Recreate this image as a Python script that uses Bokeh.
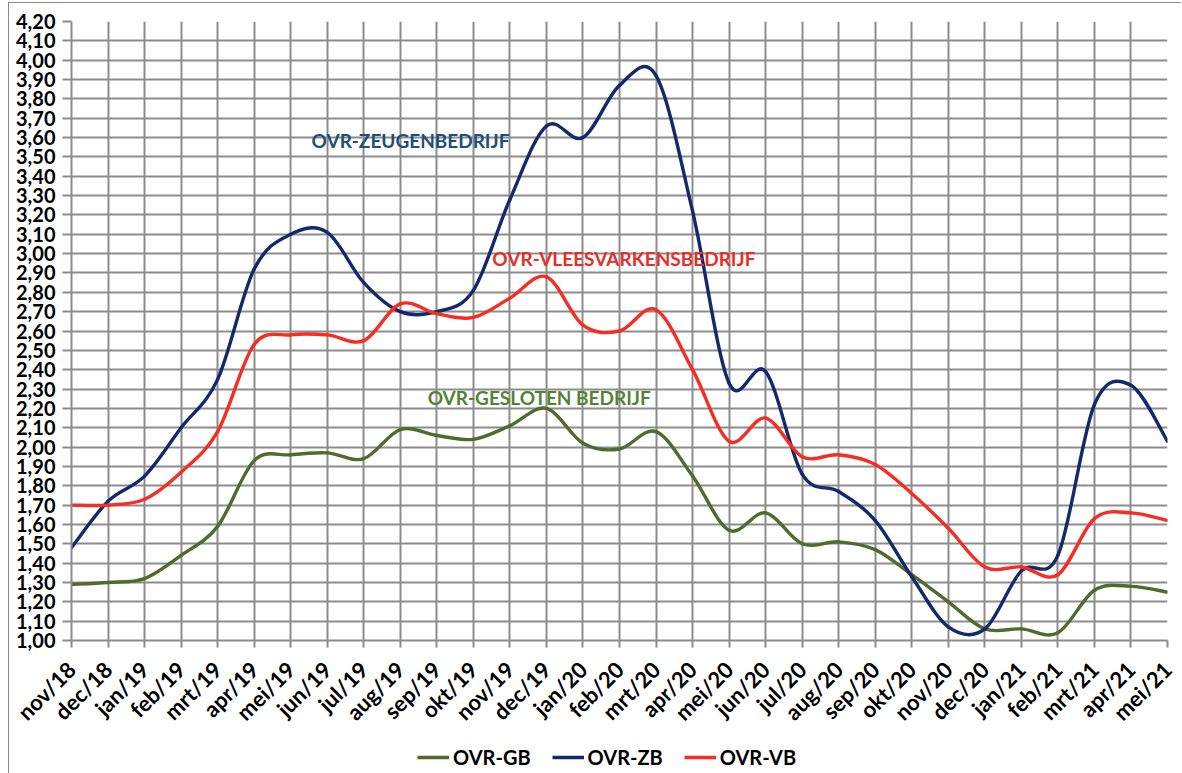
from bokeh.plotting import figure
from bokeh.layouts import column
from bokeh.models import (Range1d, FixedTicker, Legend, LegendItem, Label, ColumnDataSource)
from bokeh.embed import file_html
from bokeh.resources import INLINE
import math

months = ["nov/18", "dec/18", "jan/19", "feb/19", "mrt/19", "apr/19", "mei/19", "jun/19",
          "jul/19", "aug/19", "sep/19", "okt/19", "nov/19", "dec/19", "jan/20", "feb/20",
          "mrt/20", "apr/20", "mei/20", "jun/20", "jul/20", "aug/20", "sep/20", "okt/20",
          "nov/20", "dec/20", "jan/21", "feb/21", "mrt/21", "apr/21", "mei/21"]

ovr_gb = [1.29, 1.30, 1.32, 1.44, 1.59, 1.93, 1.96, 1.97, 1.94, 2.09, 2.06, 2.04, 2.11, 2.20,
          2.02, 1.99, 2.08, 1.85, 1.57, 1.66, 1.50, 1.51, 1.47, 1.34, 1.20, 1.06, 1.06, 1.04,
          1.26, 1.28, 1.25]
ovr_zb = [1.48, 1.72, 1.85, 2.10, 2.35, 2.92, 3.10, 3.11, 2.85, 2.70, 2.70, 2.81, 3.28, 3.66,
          3.60, 3.87, 3.92, 3.22, 2.33, 2.39, 1.86, 1.77, 1.62, 1.33, 1.07, 1.06, 1.36, 1.44,
          2.22, 2.32, 2.03]
ovr_vb = [1.70, 1.70, 1.73, 1.87, 2.08, 2.53, 2.58, 2.58, 2.55, 2.74, 2.69, 2.67, 2.77, 2.88,
          2.63, 2.60, 2.71, 2.40, 2.03, 2.15, 1.95, 1.96, 1.91, 1.76, 1.58, 1.38, 1.38, 1.34,
          1.63, 1.66, 1.62]

series_names = ["OVR-GB", "OVR-ZB", "OVR-VB"]
series_colors = ["#4F6B2E", "#13296B", "#F52D22"]

y_ticks = [round(1.0 + 0.1 * i, 2) for i in range(33)]
y_labels = [f"{v:.2f}".replace(".", ",") for v in y_ticks]

FONT = "Lato"
GRID = "#8C8C8C"

p = figure(width=1172, height=735, output_backend="svg", toolbar_location=None,
           x_range=Range1d(0, len(months) - 1), y_range=Range1d(1.0, 4.2),
           min_border_left=62, min_border_right=14, min_border_top=18, min_border_bottom=93)
p.outline_line_color = None
p.background_fill_color = "white"

# axes
p.xaxis.ticker = FixedTicker(ticks=list(range(len(months))))
p.xaxis.major_label_overrides = {i: m for i, m in enumerate(months)}
p.xaxis.major_label_orientation = math.pi / 4
p.yaxis.ticker = FixedTicker(ticks=y_ticks)
p.yaxis.major_label_overrides = {t: l for t, l in zip(y_ticks, y_labels)}
for ax in (p.xaxis[0], p.yaxis[0]):
    ax.axis_line_color = GRID
    ax.axis_line_width = 2
    ax.major_tick_line_color = GRID
    ax.major_tick_line_width = 2
    ax.major_tick_in = 0
    ax.minor_tick_line_color = None
    ax.major_label_text_font = FONT
    ax.major_label_text_font_style = "bold"
    ax.major_label_text_color = "black"
p.yaxis.major_label_text_font_size = "20px"
p.xaxis.major_label_text_font_size = "22px"
p.yaxis.major_tick_out = 9
p.yaxis.major_label_standoff = 7
p.xaxis.major_tick_out = 7
p.xaxis.major_label_standoff = 18

p.xgrid.ticker = FixedTicker(ticks=list(range(len(months))))
p.ygrid.ticker = FixedTicker(ticks=y_ticks)
for g in (p.xgrid[0], p.ygrid[0]):
    g.grid_line_color = GRID
    g.grid_line_width = 2
    g.grid_line_alpha = 1.0

# smooth curves (Excel-style) drawn as bezier segments through the data
for name, vals, col in zip(series_names, [ovr_gb, ovr_zb, ovr_vb], series_colors):
    n = len(vals)
    xs = list(range(n))
    x0, y0, x1, y1, cx0, cy0, cx1, cy1 = [], [], [], [], [], [], [], []
    for i in range(n - 1):
        im1 = max(i - 1, 0)
        ip2 = min(i + 2, n - 1)
        x0.append(xs[i]); y0.append(vals[i])
        x1.append(xs[i + 1]); y1.append(vals[i + 1])
        cx0.append(xs[i] + (xs[i + 1] - xs[im1]) / 6.0)
        cy0.append(vals[i] + (vals[i + 1] - vals[im1]) / 6.0)
        cx1.append(xs[i + 1] - (xs[ip2] - xs[i]) / 6.0)
        cy1.append(vals[i + 1] - (vals[ip2] - vals[i]) / 6.0)
    src = ColumnDataSource(dict(x0=x0, y0=y0, x1=x1, y1=y1, cx0=cx0, cy0=cy0, cx1=cx1, cy1=cy1))
    p.bezier(x0="x0", y0="y0", x1="x1", y1="y1", cx0="cx0", cy0="cy0", cx1="cx1", cy1="cy1",
             source=src, line_color=col, line_width=3.4, line_cap="round")

# annotations
annotations = [("OVR-ZEUGENBEDRIJF", 6.57, 3.585, "#1F4E79"),
               ("OVR-VLEESVARKENSBEDRIJF", 11.52, 2.975, "#E3302A"),
               ("OVR-GESLOTEN BEDRIJF", 9.75, 2.255, "#548235")]
for txt, ax_, ay_, c in annotations:
    p.add_layout(Label(x=ax_, y=ay_, text=txt, text_color=c, text_font=FONT,
                       text_font_style="bold", text_font_size="19px",
                       text_baseline="middle", text_align="left"))

# legend strip below the chart
p2 = figure(width=1172, height=35, output_backend="svg", toolbar_location=None,
            x_range=Range1d(0, 1), y_range=Range1d(0, 1), min_border=0)
p2.axis.visible = False
p2.grid.visible = False
p2.outline_line_color = None
items = []
for name, col in zip(series_names, series_colors):
    r = p2.line(x=[5, 6], y=[5, 5], line_color=col, line_width=3.4)
    items.append(LegendItem(label=name, renderers=[r]))
legend = Legend(items=items, orientation="horizontal", location=(346, 4),
                label_text_font=FONT, label_text_font_style="bold", label_text_font_size="20px",
                label_text_color="black", glyph_width=32, glyph_height=20, label_height=20,
                spacing=21, label_standoff=4, padding=0, margin=0,
                border_line_alpha=0, background_fill_alpha=0)
p2.add_layout(legend, "center")

layout = column(p, p2, spacing=0,
                styles={"border-left": "1px solid #8C8C8C", "border-top": "1px solid #8C8C8C",
                        "margin-left": "8px", "margin-top": "2px"})

open("out.html", "w").write(file_html(layout, INLINE))
